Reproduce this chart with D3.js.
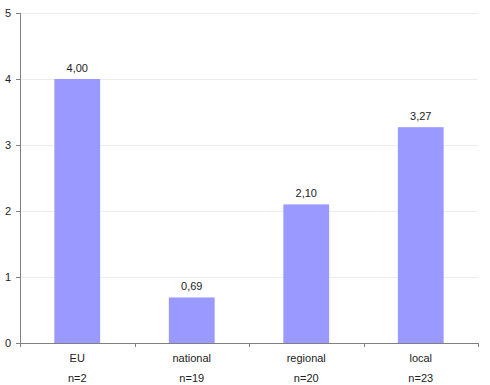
<!DOCTYPE html>
<html>
<head>
<meta charset="utf-8">
<script src="https://cdn.jsdelivr.net/npm/d3@7"></script>
<style>
  body { margin: 0; background: #fff; }
  text { font-family: "Liberation Sans", Arial, sans-serif; font-size: 11px; fill: #222; }
</style>
</head>
<body>
<svg id="chart" width="490" height="385"></svg>
<script>
const categories = ['EU', 'national', 'regional', 'local'];
const counts = ['n=2', 'n=19', 'n=20', 'n=23'];
const values = [4.00, 0.69, 2.10, 3.27];
const yTicks = [0, 1, 2, 3, 4, 5];

const margin = { top: 13, left: 20, right: 12, bottom: 42 };
const width = 490;
const height = 385;

const svg = d3.select('#chart');

const x = d3.scaleBand()
  .domain(categories)
  .range([margin.left, width - margin.right])
  .paddingInner(0.6)
  .paddingOuter(0.3);

const y = d3.scaleLinear()
  .domain([0, 5])
  .range([height - margin.bottom, margin.top]);

// gridlines
svg.append('g')
  .selectAll('line')
  .data(yTicks.slice(1))
  .enter()
  .append('line')
  .attr('x1', margin.left)
  .attr('x2', width - margin.right)
  .attr('y1', (d) => y(d) + 0.5)
  .attr('y2', (d) => y(d) + 0.5)
  .attr('stroke', '#ececec');

// bars
svg.append('g')
  .selectAll('rect')
  .data(values)
  .enter()
  .append('rect')
  .attr('x', (d, i) => x(categories[i]))
  .attr('y', (d) => y(d))
  .attr('width', x.bandwidth())
  .attr('height', (d) => y(0) - y(d))
  .attr('fill', '#9999ff');

// value labels
svg.append('g')
  .selectAll('text')
  .data(values)
  .enter()
  .append('text')
  .text((d) => d.toFixed(2).replace('.', ','))
  .attr('x', (d, i) => x(categories[i]) + x.bandwidth() / 2)
  .attr('y', (d) => y(d) - 7)
  .attr('text-anchor', 'middle');

// y axis
const yAxis = svg.append('g');
yAxis.append('line')
  .attr('x1', margin.left + 0.5)
  .attr('x2', margin.left + 0.5)
  .attr('y1', y(5))
  .attr('y2', y(0))
  .attr('stroke', '#808080');
yAxis.selectAll('.tick')
  .data(yTicks)
  .enter()
  .append('line')
  .attr('x1', margin.left - 4)
  .attr('x2', margin.left)
  .attr('y1', (d) => y(d) + 0.5)
  .attr('y2', (d) => y(d) + 0.5)
  .attr('stroke', '#808080');
yAxis.selectAll('text')
  .data(yTicks)
  .enter()
  .append('text')
  .text((d) => d)
  .attr('x', 11)
  .attr('y', (d) => y(d) + 4)
  .attr('text-anchor', 'end');

// x axis
const xAxis = svg.append('g');
xAxis.append('line')
  .attr('x1', margin.left)
  .attr('x2', width - margin.right)
  .attr('y1', y(0) + 0.5)
  .attr('y2', y(0) + 0.5)
  .attr('stroke', '#808080');
const bounds = categories.map((c) => x(c) - x.step() * x.paddingInner() / 2)
  .concat([width - margin.right]);
bounds[0] = margin.left;
xAxis.selectAll('.tick')
  .data(bounds)
  .enter()
  .append('line')
  .attr('x1', (d) => Math.round(d) + 0.5)
  .attr('x2', (d) => Math.round(d) + 0.5)
  .attr('y1', y(0))
  .attr('y2', y(0) + 4)
  .attr('stroke', '#808080');
xAxis.selectAll('.cat')
  .data(categories)
  .enter()
  .append('text')
  .text((d) => d)
  .attr('x', (d) => x(d) + x.bandwidth() / 2)
  .attr('y', 362)
  .attr('text-anchor', 'middle');
xAxis.selectAll('.cnt')
  .data(counts)
  .enter()
  .append('text')
  .text((d) => d)
  .attr('x', (d, i) => x(categories[i]) + x.bandwidth() / 2)
  .attr('y', 382)
  .attr('text-anchor', 'middle');
</script>
</body>
</html>
